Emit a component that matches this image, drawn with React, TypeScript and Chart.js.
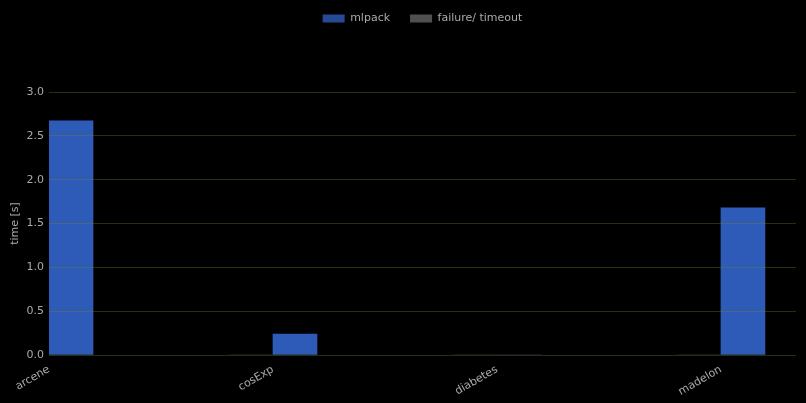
import React, { useEffect, useRef } from "react";
import { Chart, registerables } from "chart.js";

Chart.register(...registerables);

const categories = ["arcene", "cosExp", "diabetes", "madelon"];
const mlpackTimes = [2.67, 0.24, 0, 1.68];
const failureTimes = [0, 0, 0, 0];
const yTicks = [0, 0.5, 1.0, 1.5, 2.0, 2.5, 3.0];

const legendSpacer = {
  id: "legendSpacer",
  beforeInit(chart: any) {
    const orig = chart.legend.fit;
    chart.legend.fit = function () {
      orig.bind(chart.legend)();
      this.height += 58;
    };
  },
};

export default function App() {
  const ref = useRef<HTMLCanvasElement>(null);
  useEffect(() => {
    document.body.style.margin = "0";
    document.body.style.background = "#000";
    const chart = new Chart(ref.current!, {
      type: "bar",
      data: {
        datasets: [
          {
            label: "mlpack",
            data: mlpackTimes.map((v, i) => ({ x: i, y: v })),
            backgroundColor: "#2e5bb8",
            borderWidth: 0,
            barThickness: 44,
            order: 2,
          },
          {
            label: "failure/ timeout",
            data: failureTimes.map((v, i) => ({ x: i, y: v })),
            backgroundColor: "#505050",
            borderWidth: 0,
            barThickness: 44,
            order: 1,
          },
        ],
      },
      plugins: [legendSpacer],
      options: {
        animation: false,
        responsive: true,
        maintainAspectRatio: false,
        layout: { padding: { top: -7, right: 10, bottom: 0, left: 0 } },
        plugins: {
          legend: {
            position: "top",
            fullSize: false,
            labels: {
              color: "#aaaaaa",
              font: { family: "DejaVu Sans", size: 11 },
              boxWidth: 22,
              boxHeight: 8,
              padding: 20,
              sort: (a: any, b: any) => a.datasetIndex - b.datasetIndex,
              generateLabels: (c: any) => {
                const items = Chart.defaults.plugins.legend.labels.generateLabels(c);
                return items.map((it: any) => ({
                  ...it,
                  fillStyle: it.datasetIndex === 0 ? "#264a94" : "#505050",
                  strokeStyle: "transparent",
                  lineWidth: 0,
                }));
              },
            },
          },
          tooltip: { enabled: false },
        },
        scales: {
          x: {
            type: "linear",
            offset: false,
            min: 0,
            max: 3.335,
            grid: { display: false, offset: false },
            border: { display: false },
            afterFit: (s: any) => {
              s.height = 48;
            },
            ticks: {
              stepSize: 1,
              includeBounds: false,
              autoSkip: false,
              maxRotation: 30,
              minRotation: 30,
              color: "#aaaaaa",
              font: { family: "DejaVu Sans", size: 11 },
              padding: 0,
              callback: (v: any) => (Number.isInteger(v) ? categories[v] ?? "" : ""),
            },
          },
          y: {
            min: 0,
            max: 3,
            afterFit: (s: any) => {
              s.width = 49;
            },
            afterBuildTicks: (s: any) => {
              s.ticks = yTicks.map((v) => ({ value: v }));
            },
            grid: {
              color: "rgba(120,135,20,0.35)",
              drawTicks: false,
              z: 1,
            },
            border: { display: false },
            title: {
              display: true,
              text: "time [s]",
              color: "#aaaaaa",
              font: { family: "DejaVu Sans", size: 11 },
              padding: { top: 9, bottom: 0 },
            },
            ticks: {
              color: "#aaaaaa",
              font: { family: "DejaVu Sans", size: 11 },
              padding: 5,
              callback: (v: any) => Number(v).toFixed(1),
            },
          },
        },
      } as any,
    });
    return () => chart.destroy();
  }, []);
  return (
    <div style={{ width: 806, height: 403, background: "#000", position: "relative" }}>
      <canvas ref={ref} />
    </div>
  );
}
